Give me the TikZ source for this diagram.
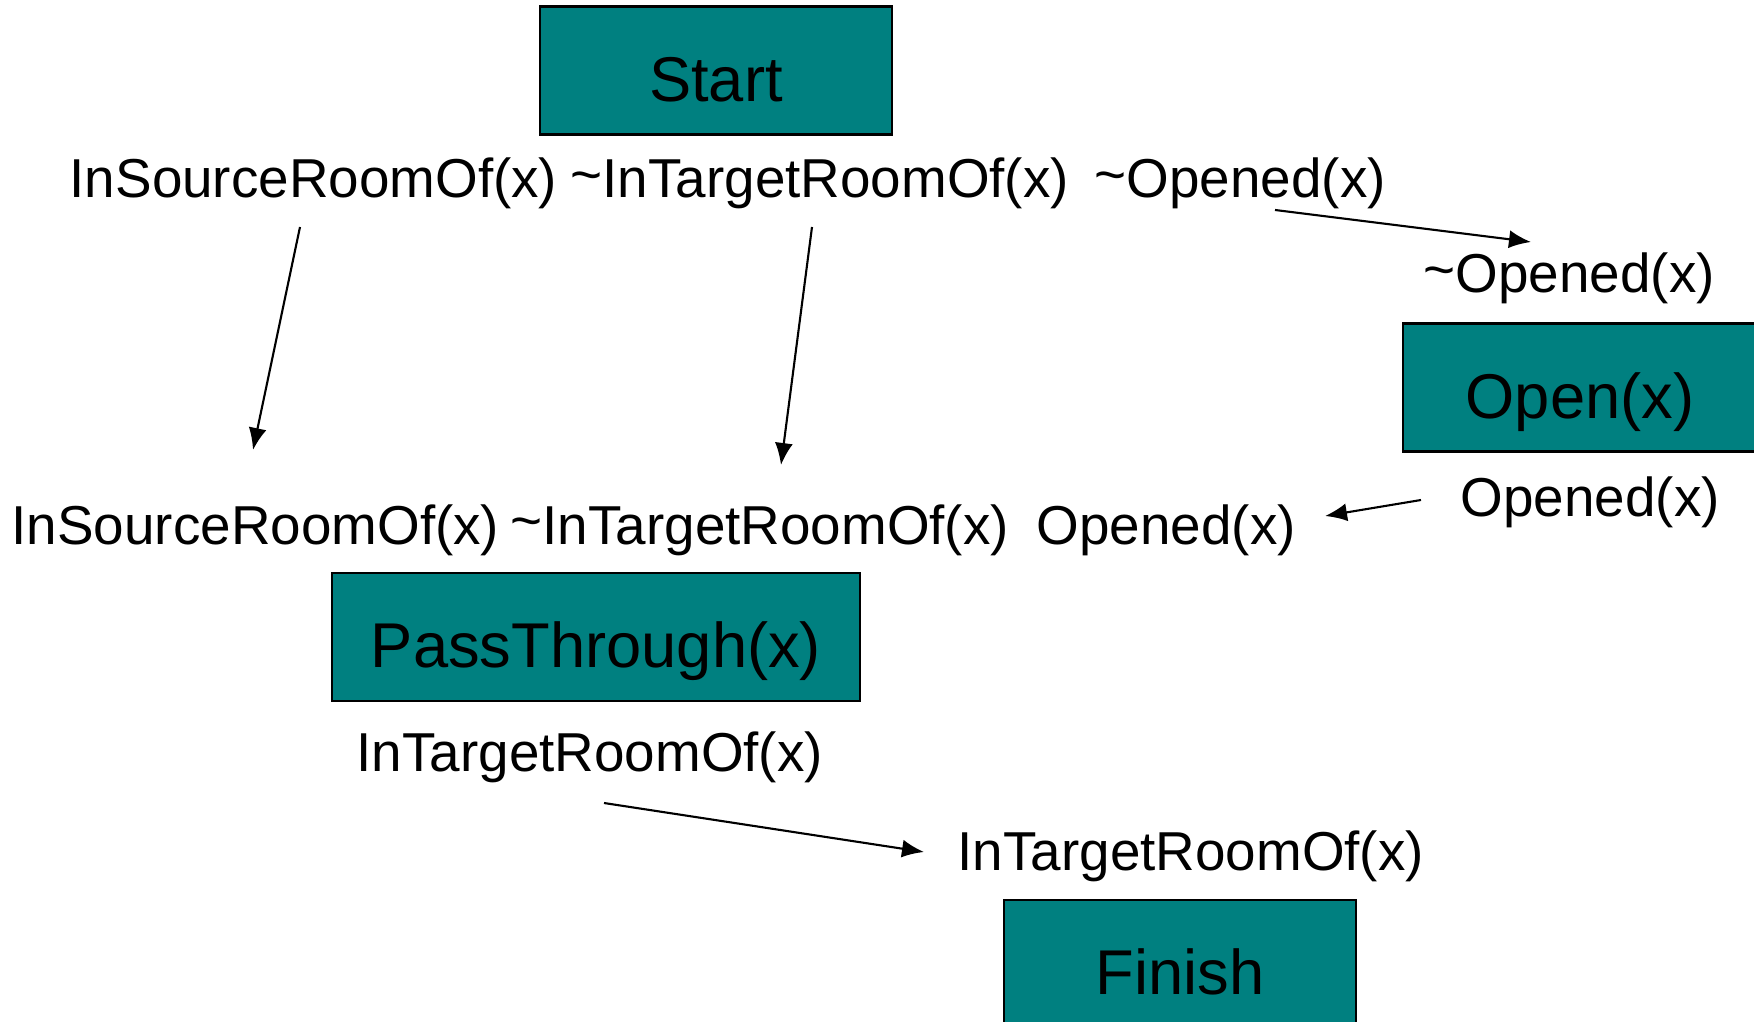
\documentclass[tikz,border=0pt]{standalone}
\usepackage{fontspec}
\setmainfont{Liberation Sans}
\usepackage{xcolor}
\usepackage{tikz}
\usetikzlibrary{arrows.meta, positioning}
\definecolor{opteal}{RGB}{0, 128, 128}

\tikzset{
    opbox/.style={fill=opteal, draw=black, line width=0.6pt, inner sep=0pt,
                  minimum width=3.52cm, minimum height=1.28cm, text height=17.5pt, text depth=0pt,
                  font=\fontsize{18}{22}\selectfont},
    cond/.style={anchor=base west, inner sep=0pt, font=\fontsize{15.6}{19}\selectfont},
    link/.style={-{Latex[length=2.2mm, width=1.8mm]}, line width=0.6pt}
}

\begin{document}
\begin{tikzpicture}
    \clip (0,0) rectangle (17.54,10.21);

    % Operators
    \node[opbox] (start) at (7.16,9.505) {Start};
    \node[opbox, minimum width=3.54cm] (open) at (15.80,6.335) {Open(x)};
    \node[opbox, minimum width=5.28cm] (pass) at (5.96,3.84) {PassThrough(x)};
    \node[opbox] (finish) at (11.80,0.57) {Finish};

    % Conditions
    \node[cond] (srcA) at (0.69,8.23) {InSourceRoomOf(x)};
    \node[cond] (tgtA) at (5.70,8.23) {\raisebox{0.15ex}{\char`\~}InTargetRoomOf(x)};
    \node[cond] (opnA) at (10.94,8.23) {\raisebox{0.15ex}{\char`\~}Opened(x)};
    \node[cond] (preOpen) at (14.23,7.28) {\raisebox{0.15ex}{\char`\~}Opened(x)};
    \node[cond] (postOpen) at (14.60,5.04) {Opened(x)};
    \node[cond] (srcB) at (0.11,4.77) {InSourceRoomOf(x)};
    \node[cond] (tgtB) at (5.10,4.77) {\raisebox{0.15ex}{\char`\~}InTargetRoomOf(x)};
    \node[cond] (opnB) at (10.36,4.77) {Opened(x)};
    \node[cond] (postPass) at (3.56,2.50) {InTargetRoomOf(x)};
    \node[cond] (preFinish) at (9.57,1.51) {InTargetRoomOf(x)};

    % Link ends
    \coordinate (l1a) at (3.00,7.94);
    \coordinate (l1b) at (2.53,5.71);
    \coordinate (l2a) at (8.12,7.94);
    \coordinate (l2b) at (7.81,5.56);
    \coordinate (l3a) at (12.75,8.11);
    \coordinate (l3b) at (15.31,7.79);
    \coordinate (l4a) at (14.21,5.21);
    \coordinate (l4b) at (13.25,5.05);
    \coordinate (l5a) at (6.04,2.18);
    \coordinate (l5b) at (9.24,1.69);

    % Causal links
    \draw[link] (l1a) -- (l1b);
    \draw[link] (l2a) -- (l2b);
    \draw[link] (l3a) -- (l3b);
    \draw[link] (l4a) -- (l4b);
    \draw[link] (l5a) -- (l5b);
\end{tikzpicture}
\end{document}
